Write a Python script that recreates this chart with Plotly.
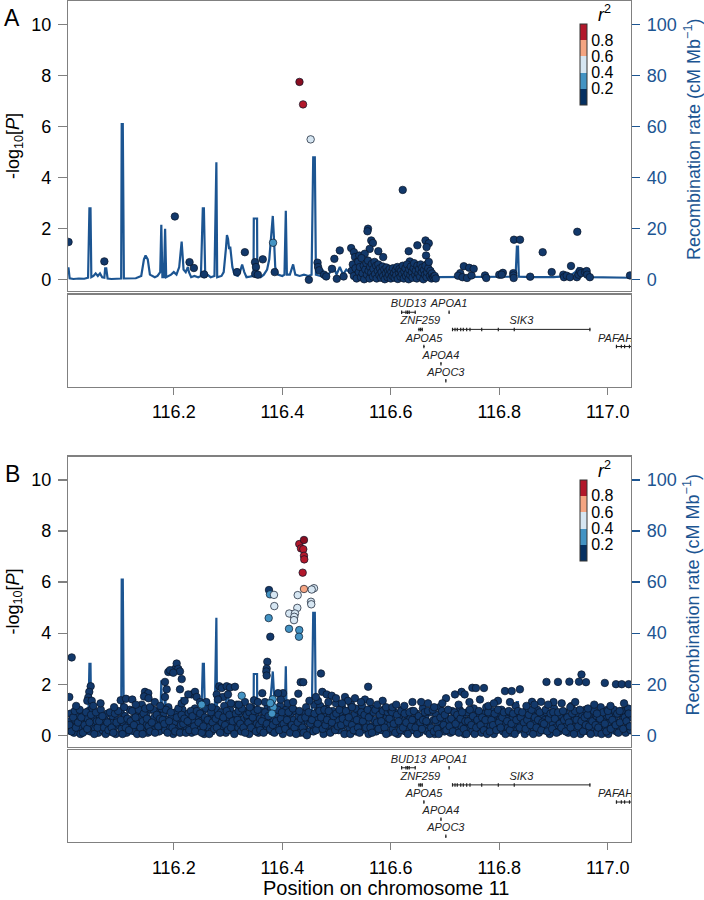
import plotly.graph_objects as go

# ---------------- data ----------------
# Recombination rate (cM/Mb) along chr11 (Mb)
recomb_pos = [116.005, 116.006, 116.008, 116.015, 116.025, 116.035, 116.042, 116.0445, 116.0465, 116.048,
              116.052, 116.056, 116.060, 116.064, 116.068, 116.072, 116.0735, 116.0755, 116.078, 116.085,
              116.095, 116.103, 116.104, 116.106, 116.108, 116.120, 116.130, 116.140, 116.145, 116.148,
              116.152, 116.156, 116.165, 116.170, 116.175, 116.177, 116.179, 116.182, 116.184, 116.186,
              116.195, 116.200, 116.205, 116.210, 116.2145, 116.218, 116.222, 116.226, 116.228, 116.232,
              116.238, 116.245, 116.250, 116.2535, 116.2555, 116.258, 116.262, 116.268, 116.275, 116.2785,
              116.280, 116.288, 116.292, 116.296, 116.298, 116.300, 116.302, 116.304, 116.306, 116.308,
              116.312, 116.318, 116.322, 116.326, 116.330, 116.334, 116.340, 116.347, 116.3475, 116.3535,
              116.354, 116.360, 116.366, 116.372, 116.376, 116.379, 116.3825, 116.3845, 116.387, 116.392,
              116.400, 116.404, 116.4065, 116.4085, 116.414, 116.420, 116.424, 116.432, 116.440, 116.448,
              116.454, 116.457, 116.460, 116.462, 116.470, 116.474, 116.478, 116.485, 116.495, 116.500,
              116.506, 116.512, 116.518, 116.524, 116.530, 116.536, 116.545, 116.560, 116.580, 116.600,
              116.620, 116.640, 116.660, 116.680, 116.700, 116.720, 116.750, 116.780, 116.800, 116.830,
              116.8325, 116.8345, 116.836, 116.860, 116.900, 116.930, 116.940, 116.945, 116.950, 116.956,
              116.965, 117.000, 117.043]
recomb_rate = [4.5, 4.5, 0.6, 0.3, 0.5, 0.4, 0.8, 28, 28, 1.0,
               1.5, 2.5, 1.5, 2.5, 1.0, 0.8, 4.5, 4.5, 0.5, 0.3,
               0.4, 0.5, 61, 61, 0.5, 0.4, 0.6, 1.5, 8, 9.5,
               8, 2, 1.0, 1.5, 3, 21.5, 1.0, 1.0, 20, 1.0,
               2, 3, 2, 5, 15, 4, 3, 5, 3, 1,
               1.5, 1, 1.5, 28, 28, 1, 2, 1, 1.5, 46,
               1, 1.5, 3, 12, 17.5, 16, 12, 13, 9, 5,
               2, 1.5, 3, 6, 3, 1, 1.2, 1.5, 24, 24,
               1.5, 1, 2, 4, 8, 17, 25, 17, 5, 2,
               1.5, 2, 27, 2, 2, 6, 2, 1.5, 2, 1.5,
               2, 48, 48, 2, 1.5, 4, 1.5, 2, 5, 2,
               5, 2, 4, 3, 5, 2, 1, 1, 1.2, 1,
               0.8, 1, 1.2, 1, 1, 1, 1, 1, 1, 1.2,
               13, 13, 1.2, 1, 1, 1.5, 3, 4.5, 3, 2,
               1, 0.8, 0.8]

# Panel A association results: [position Mb, -log10 P]
a_navy = [[116.006, 1.48], [116.072, 0.72], [116.202, 2.48], [116.229, 0.69], [116.237, 0.46], [116.256, 0.21],
          [116.3165, 0.3], [116.331, 1.08], [116.3497, 0.69], [116.3515, 0.5], [116.350, 0.23], [116.355, 0.2],
          [116.364, 0.8], [116.386, 0.3], [116.449, 0.0], [116.465, 0.67], [116.466, 0.5], [116.468, 0.37],
          [116.477, 0.2], [116.481, 0.13], [116.496, 0.82], [116.4916, 0.43], [116.5005, 0.04], [116.506, 1.15],
          [116.513, 0.13], [116.527, 1.24],
          [116.558, 2.0], [116.557, 1.9], [116.564, 1.54], [116.567, 1.44], [116.561, 1.21], [116.577, 1.12],
          [116.586, 0.89], [116.532, 1.08], [116.534, 0.89], [116.538, 0.7], [116.542, 0.95], [116.552, 1.02],
          [116.622, 3.52], [116.633, 1.12], [116.649, 1.35], [116.664, 1.54], [116.670, 1.43], [116.666, 1.28],
          [116.665, 0.95], [116.668, 0.63], [116.635, 0.72],
          [116.728, 0.26], [116.7239, 0.16], [116.7322, 0.1], [116.7346, 0.53], [116.7405, 0.07], [116.7445, 0.47],
          [116.7488, 0.17], [116.7528, 0.43], [116.7737, 0.17], [116.776, 0.07], [116.800, 0.2], [116.8066, 0.27],
          [116.8044, 0.2], [116.8258, 0.26], [116.826, 0.17], [116.8265, 0.07], [116.8271, 1.57], [116.8382, 1.57],
          [116.857, 0.12], [116.880, 1.08], [116.8966, 0.3], [116.918, 0.2], [116.9193, 0.1], [116.9243, 0.16],
          [116.9303, 0.1], [116.9322, 0.54], [116.9438, 1.88], [116.943, 0.1], [116.946, 0.2], [116.9488, 0.34],
          [116.951, 0.26], [116.958, 0.3], [116.961, 0.34], [116.962, 0.2], [116.967, 0.1], [117.041, 0.17]]
a_cluster = [[116.528, 0.35], [116.530, 0.6], [116.532, 0.15], [116.535, 0.45], [116.537, 0.05], [116.540, 0.7],
             [116.541, 0.3], [116.543, 0.5], [116.545, 0.1], [116.546, 0.85], [116.548, 0.25], [116.550, 0.55],
             [116.551, 0.02], [116.553, 0.4], [116.555, 0.65], [116.556, 0.2], [116.558, 0.75], [116.559, 0.35],
             [116.561, 0.05], [116.562, 0.5], [116.564, 0.28], [116.565, 0.62], [116.567, 0.12], [116.568, 0.42],
             [116.570, 0.7], [116.571, 0.22], [116.573, 0.55], [116.574, 0.05], [116.576, 0.35], [116.577, 0.6],
             [116.579, 0.18], [116.580, 0.45], [116.582, 0.08], [116.583, 0.3], [116.585, 0.52], [116.586, 0.15],
             [116.588, 0.4], [116.589, 0.02], [116.591, 0.25], [116.592, 0.48], [116.594, 0.1], [116.595, 0.35],
             [116.597, 0.2], [116.598, 0.42], [116.600, 0.05], [116.601, 0.3], [116.603, 0.15], [116.604, 0.45],
             [116.606, 0.25], [116.607, 0.08], [116.609, 0.38], [116.610, 0.18], [116.612, 0.5], [116.613, 0.03],
             [116.615, 0.28], [116.616, 0.42], [116.618, 0.12], [116.619, 0.35], [116.621, 0.22], [116.622, 0.55],
             [116.624, 0.05], [116.625, 0.32], [116.627, 0.45], [116.628, 0.15], [116.630, 0.6], [116.631, 0.25],
             [116.633, 0.02], [116.634, 0.4], [116.636, 0.18], [116.637, 0.52], [116.639, 0.3], [116.640, 0.08],
             [116.642, 0.45], [116.643, 0.65], [116.645, 0.2], [116.646, 0.35], [116.648, 0.05], [116.649, 0.55],
             [116.651, 0.25], [116.652, 0.42], [116.654, 0.12], [116.655, 0.6], [116.657, 0.3], [116.658, 0.48],
             [116.660, 0.02], [116.661, 0.38], [116.663, 0.2], [116.664, 0.55], [116.666, 0.1], [116.667, 0.3],
             [116.669, 0.45], [116.670, 0.7], [116.672, 0.15], [116.673, 0.35], [116.675, 0.05], [116.676, 0.25],
             [116.678, 0.12], [116.679, 0.08], [116.681, 0.15], [116.683, 0.05]]
a_blue = [[116.383, 1.45]]
a_light = [[116.4523, 5.5]]
a_salmon = []
a_red = [[116.4383, 6.87]]
a_lead = [[116.4317, 7.75]]

# Panel B association results
b_band = [[116.006, 0.2], [116.008, 0.55], [116.010, 0.85], [116.013, 0.35], [116.016, 0.1], [116.018, 0.6],
          [116.022, 0.75], [116.025, 0.3], [116.028, 0.05], [116.031, 0.55], [116.034, 0.8], [116.037, 0.2], [116.039, 0.45],
          [116.041, 0.65], [116.043, 0.95], [116.046, 0.15], [116.049, 0.4], [116.052, 0.7], [116.055, 0.25], [116.058, 0.55], [116.050, 1.05],
          [116.061, 0.1], [116.063, 0.8], [116.066, 0.45], [116.069, 0.2], [116.072, 0.65], [116.075, 0.35], [116.078, 0.85],
          [116.081, 0.15], [116.084, 0.55], [116.087, 0.75], [116.090, 0.3], [116.093, 0.05], [116.096, 0.6], [116.099, 0.4],
          [116.101, 0.9], [116.104, 0.25], [116.107, 0.5], [116.110, 0.75], [116.113, 0.1], [116.116, 0.4], [116.119, 1.0],
          [116.122, 0.3], [116.125, 0.65], [116.128, 0.15], [116.131, 0.85], [116.134, 0.45], [116.137, 0.2], [116.139, 0.7],
          [116.141, 1.2], [116.143, 0.55], [116.146, 0.3], [116.149, 0.8], [116.152, 0.1], [116.155, 0.6], [116.158, 1.0], [116.150, 0.4],
          [116.161, 0.25], [116.164, 0.7], [116.167, 0.45], [116.170, 0.9], [116.173, 0.15], [116.176, 0.55], [116.179, 0.35],
          [116.181, 0.8], [116.184, 0.2], [116.187, 0.6], [116.190, 1.1], [116.193, 0.35], [116.196, 0.75], [116.199, 0.05],
          [116.201, 0.5], [116.204, 0.9], [116.207, 0.25], [116.210, 0.65], [116.213, 0.4], [116.216, 1.0], [116.219, 0.15],
          [116.221, 0.7], [116.224, 0.3], [116.227, 0.85], [116.230, 0.5], [116.233, 0.1], [116.236, 0.6], [116.239, 1.05],
          [116.241, 0.35], [116.244, 0.75], [116.247, 0.2], [116.250, 0.55], [116.253, 0.9], [116.256, 0.05], [116.259, 0.45],
          [116.261, 1.1], [116.264, 0.3], [116.267, 0.65], [116.270, 0.15], [116.273, 0.8], [116.276, 0.45], [116.279, 1.0],
          [116.281, 0.25], [116.284, 0.6], [116.287, 0.9], [116.290, 0.35], [116.293, 1.15], [116.296, 0.1], [116.299, 0.7],
          [116.301, 0.45], [116.304, 1.0], [116.307, 0.2], [116.310, 0.75], [116.313, 0.5], [116.316, 1.2], [116.319, 0.3],
          [116.321, 0.85], [116.324, 0.15], [116.327, 0.6], [116.330, 0.95], [116.333, 0.4], [116.336, 0.7], [116.339, 0.05],
          [116.341, 0.55], [116.344, 1.05], [116.347, 0.25], [116.350, 0.8], [116.353, 0.45], [116.356, 0.1], [116.359, 0.65],
          [116.361, 0.95], [116.364, 0.35], [116.367, 0.7], [116.370, 0.2], [116.373, 1.1], [116.376, 0.5], [116.379, 0.8],
          [116.381, 0.15], [116.384, 0.6], [116.387, 0.9], [116.390, 0.3], [116.393, 0.75], [116.396, 1.15], [116.399, 0.45],
          [116.401, 0.05], [116.404, 0.7], [116.407, 1.0], [116.410, 0.35], [116.413, 0.55], [116.416, 0.85], [116.419, 0.2],
          [116.421, 0.6], [116.424, 0.95], [116.427, 0.3], [116.430, 0.75], [116.433, 0.1], [116.436, 0.5], [116.439, 0.85],
          [116.441, 0.25], [116.444, 1.1], [116.447, 0.55], [116.450, 0.15], [116.453, 0.8], [116.456, 0.4], [116.459, 1.2],
          [116.461, 0.65], [116.464, 0.9], [116.467, 0.3], [116.470, 1.15], [116.473, 0.5], [116.476, 0.05], [116.479, 0.75],
          [116.481, 1.05], [116.484, 0.35], [116.487, 0.7], [116.490, 0.15], [116.493, 0.95], [116.496, 0.45], [116.499, 1.25],
          [116.501, 0.6], [116.504, 0.2], [116.507, 0.85], [116.510, 1.1], [116.513, 0.4], [116.516, 0.7], [116.519, 0.1],
          [116.521, 0.95], [116.524, 0.3], [116.527, 1.2], [116.530, 0.55], [116.533, 0.8], [116.536, 0.15], [116.539, 1.0],
          [116.541, 0.45], [116.544, 0.7], [116.547, 1.15], [116.550, 0.25], [116.553, 0.9], [116.556, 0.55], [116.559, 0.05],
          [116.561, 0.75], [116.564, 1.05], [116.567, 0.35], [116.570, 0.6], [116.573, 0.15], [116.576, 0.95], [116.579, 0.45],
          [116.581, 0.8], [116.584, 0.2], [116.587, 1.0], [116.590, 0.5], [116.593, 0.7], [116.596, 0.1], [116.599, 0.4],
          [116.601, 0.65], [116.604, 0.25], [116.607, 0.9], [116.610, 0.45], [116.613, 0.05], [116.616, 0.75], [116.619, 0.35],
          [116.621, 1.0], [116.624, 0.55], [116.627, 0.15], [116.630, 0.8], [116.633, 0.3], [116.636, 0.65], [116.639, 0.95],
          [116.641, 0.2], [116.644, 0.6], [116.647, 0.85], [116.650, 0.4], [116.653, 0.1], [116.656, 0.7], [116.659, 1.05],
          [116.661, 0.35], [116.664, 0.75], [116.667, 0.15], [116.670, 0.5], [116.673, 0.9], [116.676, 0.25], [116.679, 0.6],
          [116.681, 0.05], [116.684, 0.8], [116.687, 0.45], [116.690, 1.1], [116.693, 0.3], [116.696, 0.65], [116.699, 0.15],
          [116.701, 0.85], [116.704, 0.4], [116.707, 0.6], [116.710, 0.1], [116.713, 0.95], [116.716, 0.3], [116.719, 0.7],
          [116.721, 0.2], [116.724, 0.55], [116.727, 1.0], [116.730, 0.35], [116.733, 0.75], [116.736, 0.05], [116.739, 0.5],
          [116.741, 0.9], [116.744, 0.25], [116.747, 0.65], [116.750, 0.15], [116.753, 1.05], [116.756, 0.45], [116.759, 0.8],
          [116.761, 0.3], [116.764, 0.6], [116.767, 0.1], [116.770, 0.85], [116.773, 0.4], [116.776, 1.1], [116.779, 0.2],
          [116.781, 0.7], [116.784, 0.35], [116.787, 0.95], [116.790, 0.05], [116.793, 0.55], [116.796, 0.8], [116.799, 0.25],
          [116.801, 0.6], [116.804, 1.0], [116.807, 0.15], [116.810, 0.45], [116.813, 0.75], [116.816, 0.3], [116.819, 0.9],
          [116.821, 0.1], [116.824, 0.65], [116.827, 0.4], [116.830, 1.15], [116.833, 0.2], [116.836, 0.85], [116.839, 0.5],
          [116.841, 0.3], [116.844, 0.7], [116.847, 0.05], [116.850, 0.95], [116.853, 0.45], [116.856, 0.15], [116.859, 0.6],
          [116.861, 0.85], [116.864, 0.25], [116.867, 0.55], [116.870, 1.0], [116.873, 0.1], [116.876, 0.4], [116.879, 0.75],
          [116.881, 0.2], [116.884, 0.6], [116.887, 0.9], [116.890, 0.35], [116.893, 0.05], [116.896, 0.7], [116.899, 0.45],
          [116.901, 1.05], [116.904, 0.3], [116.907, 0.65], [116.910, 0.15], [116.913, 0.8], [116.916, 0.5], [116.919, 0.25],
          [116.921, 0.9], [116.924, 0.4], [116.927, 0.1], [116.930, 0.7], [116.933, 1.15], [116.936, 0.35], [116.939, 0.6],
          [116.941, 0.2], [116.944, 0.85], [116.947, 0.5], [116.950, 0.05], [116.953, 0.75], [116.956, 0.3], [116.959, 1.0],
          [116.961, 0.45], [116.964, 0.15], [116.967, 0.65], [116.970, 0.9], [116.973, 0.25], [116.976, 0.55], [116.979, 0.1],
          [116.981, 0.8], [116.984, 0.4], [116.987, 1.1], [116.990, 0.2], [116.993, 0.6], [116.996, 0.35], [116.999, 0.75],
          [117.001, 0.05], [117.004, 0.5], [117.007, 0.9], [117.010, 0.3], [117.013, 0.7], [117.016, 0.15], [117.019, 0.45],
          [117.021, 0.85], [117.024, 0.25], [117.027, 0.6], [117.030, 0.95], [117.033, 0.1], [117.036, 0.4], [117.039, 0.7], [117.042, 0.2]]
b_band2 = [[116.0075, 0.4], [116.0115, 0.15], [116.0145, 0.7], [116.0175, 0.95], [116.0195, 0.3],
           [116.0235, 0.5], [116.0265, 1.0], [116.0295, 0.7], [116.0325, 0.1], [116.0355, 0.4], [116.0385, 0.9],
           [116.0405, 0.25], [116.0445, 0.5], [116.0475, 0.8], [116.0535, 0.05], [116.0565, 0.9], [116.0595, 0.3],
           [116.0625, 0.55], [116.0655, 1.0], [116.0685, 0.75], [116.0715, 0.3], [116.0745, 0.05], [116.0775, 0.5], [116.0795, 0.2],
           [116.0825, 0.9], [116.0855, 0.3], [116.0885, 0.1], [116.0915, 0.85], [116.0945, 0.5], [116.0975, 0.95],
           [116.1025, 0.6], [116.1055, 0.05], [116.1085, 1.1], [116.1115, 0.3], [116.1145, 0.65], [116.1175, 0.2],
           [116.1205, 0.55], [116.1235, 0.95], [116.1265, 0.4], [116.1295, 0.7], [116.1325, 0.05], [116.1355, 1.0], [116.1385, 0.3],
           [116.1425, 0.05], [116.1445, 0.85], [116.1475, 1.05], [116.1505, 0.65], [116.1535, 0.35], [116.1565, 0.15], [116.1595, 0.5],
           [116.1625, 1.0], [116.1655, 0.1], [116.1685, 0.8], [116.1715, 0.35], [116.1745, 0.65], [116.1775, 1.05], [116.1795, 0.6],
           [116.1825, 0.45], [116.1855, 1.0], [116.1885, 0.1], [116.1915, 0.55], [116.1945, 0.9], [116.1975, 0.3],
           [116.2025, 0.15], [116.2055, 0.7], [116.2085, 1.05], [116.2115, 0.1], [116.2145, 0.8], [116.2175, 0.45], [116.2195, 0.65],
           [116.2225, 0.1], [116.2255, 0.55], [116.2285, 0.2], [116.2315, 0.95], [116.2345, 0.75], [116.2375, 0.35], [116.2395, 0.15],
           [116.2425, 0.95], [116.2455, 0.5], [116.2485, 0.85], [116.2515, 0.1], [116.2545, 0.35], [116.2575, 0.7], [116.2595, 1.05],
           [116.2625, 0.6], [116.2655, 0.05], [116.2685, 0.9], [116.2715, 0.5], [116.2745, 0.25], [116.2775, 0.65], [116.2795, 0.3],
           [116.2825, 0.8], [116.2855, 0.1], [116.2885, 0.5], [116.2915, 0.7], [116.2945, 0.4], [116.2975, 0.95], [116.2995, 0.2],
           [116.3025, 0.8], [116.3055, 0.3], [116.3085, 0.55], [116.3115, 0.05], [116.3145, 0.85], [116.3175, 0.6], [116.3195, 0.95],
           [116.3225, 0.45], [116.3255, 1.05], [116.3285, 0.3], [116.3315, 0.1], [116.3345, 0.8], [116.3375, 0.5], [116.3395, 0.9],
           [116.3425, 0.3], [116.3455, 0.7], [116.3485, 0.95], [116.3515, 0.15], [116.3545, 1.0], [116.3575, 0.4], [116.3595, 0.2],
           [116.3625, 0.55], [116.3655, 0.1], [116.3685, 0.9], [116.3715, 0.45], [116.3745, 0.75], [116.3775, 0.25], [116.3795, 1.05],
           [116.3825, 0.4], [116.3855, 0.1], [116.3885, 0.55], [116.3915, 1.0], [116.3945, 0.2], [116.3975, 0.65], [116.3995, 0.9],
           [116.4025, 0.45], [116.4055, 0.25], [116.4085, 0.6], [116.4115, 0.9], [116.4145, 0.1], [116.4175, 0.4], [116.4195, 1.05],
           [116.4225, 0.3], [116.4255, 0.05], [116.4285, 0.5], [116.4315, 0.95], [116.4345, 0.65], [116.4375, 0.3], [116.4395, 0.1],
           [116.4425, 0.7], [116.4455, 0.0], [116.4485, 0.9], [116.4515, 0.45], [116.4545, 0.6], [116.4575, 0.15], [116.4595, 0.85],
           [116.4625, 0.2], [116.4655, 0.45], [116.4685, 0.95], [116.4715, 0.7], [116.4745, 0.25], [116.4775, 1.0], [116.4795, 0.4],
           [116.4825, 0.6], [116.4855, 0.95], [116.4885, 0.1], [116.4915, 0.5], [116.4945, 0.75], [116.4975, 0.2], [116.4995, 0.85],
           [116.5025, 0.35], [116.5055, 1.0], [116.5085, 0.4], [116.5115, 0.65], [116.5145, 0.05], [116.5175, 0.95], [116.5195, 0.5],
           [116.5225, 0.7], [116.5255, 0.05], [116.5285, 0.4], [116.5315, 0.2], [116.5345, 1.05], [116.5375, 0.6], [116.5395, 0.3],
           [116.5425, 0.1], [116.5455, 0.9], [116.5485, 0.55], [116.5515, 0.8], [116.5545, 0.3], [116.5575, 1.0], [116.5595, 0.7],
           [116.5625, 0.3], [116.5655, 0.1], [116.5685, 0.9], [116.5715, 1.0], [116.5745, 0.5], [116.5775, 0.25], [116.5795, 0.8],
           [116.5825, 0.55], [116.5855, 0.95], [116.5885, 0.3], [116.5915, 0.05], [116.5945, 0.9], [116.5975, 0.65], [116.5995, 1.0],
           [116.6025, 0.9], [116.6055, 0.45], [116.6085, 0.1], [116.6115, 0.8], [116.6145, 0.55], [116.6175, 0.2], [116.6195, 0.95],
           [116.6225, 0.3], [116.6255, 0.85], [116.6285, 0.5], [116.6315, 0.05], [116.6345, 0.9], [116.6375, 0.35], [116.6395, 0.6],
           [116.6425, 0.95], [116.6455, 0.3], [116.6485, 0.05], [116.6515, 0.75], [116.6545, 0.5], [116.6575, 0.25], [116.6595, 0.6],
           [116.6625, 0.9], [116.6655, 0.55], [116.6685, 0.95], [116.6715, 0.05], [116.6745, 0.3], [116.6775, 1.0], [116.6795, 0.15],
           [116.6825, 0.6], [116.6855, 0.25], [116.6885, 0.05], [116.6915, 0.7], [116.6945, 0.95], [116.6975, 0.4], [116.6995, 0.8],
           [116.7025, 0.2], [116.7055, 1.0], [116.7085, 0.35], [116.7115, 0.65], [116.7145, 0.15], [116.7175, 0.9], [116.7195, 0.45],
           [116.7225, 0.8], [116.7255, 0.1], [116.7285, 0.65], [116.7315, 0.9], [116.7345, 0.25], [116.7375, 0.55], [116.7395, 0.05],
           [116.7425, 0.55], [116.7455, 1.0], [116.7485, 0.4], [116.7515, 0.75], [116.7545, 0.05], [116.7575, 0.3], [116.7595, 0.6],
           [116.7625, 0.95], [116.7655, 0.4], [116.7685, 0.7], [116.7715, 0.2], [116.7745, 0.6], [116.7775, 0.05], [116.7795, 0.9],
           [116.7825, 0.15], [116.7855, 0.6], [116.7885, 0.4], [116.7915, 0.85], [116.7945, 0.2], [116.7975, 1.0], [116.7995, 0.5],
           [116.8025, 0.3], [116.8055, 0.7], [116.8085, 0.9], [116.8115, 0.05], [116.8145, 0.55], [116.8175, 0.95], [116.8195, 0.2],
           [116.8225, 0.45], [116.8255, 0.85], [116.8285, 0.05], [116.8315, 0.6], [116.8345, 0.95], [116.8375, 0.3], [116.8395, 0.7],
           [116.8425, 0.9], [116.8455, 0.5], [116.8485, 0.25], [116.8515, 0.6], [116.8545, 0.8], [116.8575, 0.4], [116.8595, 1.0],
           [116.8625, 0.05], [116.8655, 0.7], [116.8685, 0.3], [116.8715, 0.6], [116.8745, 0.9], [116.8775, 0.2], [116.8795, 0.5],
           [116.8825, 0.45], [116.8855, 1.0], [116.8885, 0.15], [116.8915, 0.65], [116.8945, 0.85], [116.8975, 0.25], [116.8995, 0.9],
           [116.9025, 0.65], [116.9055, 0.1], [116.9085, 0.9], [116.9115, 0.45], [116.9145, 0.3], [116.9175, 0.95], [116.9195, 0.6],
           [116.9225, 0.15], [116.9255, 0.7], [116.9285, 0.5], [116.9315, 0.3], [116.9345, 0.85], [116.9375, 0.05], [116.9395, 0.95],
           [116.9425, 0.6], [116.9455, 0.35], [116.9485, 1.0], [116.9515, 0.55], [116.9545, 0.15], [116.9575, 0.7], [116.9595, 0.4],
           [116.9625, 0.8], [116.9655, 0.35], [116.9685, 0.05], [116.9715, 0.55], [116.9745, 0.95], [116.9775, 0.4], [116.9795, 0.75],
           [116.9825, 0.3], [116.9855, 0.65], [116.9885, 0.05], [116.9915, 0.9], [116.9945, 0.45], [116.9975, 0.15], [116.9995, 1.0],
           [117.0025, 0.75], [117.0055, 0.25], [117.0085, 0.6], [117.0115, 1.0], [117.0145, 0.4], [117.0175, 0.85], [117.0195, 0.1],
           [117.0225, 0.5], [117.0255, 0.95], [117.0285, 0.25], [117.0315, 0.7], [117.0345, 0.55], [117.0375, 1.05], [117.0405, 0.35]]
b_navy_hi = [[116.0118, 3.05], [116.0074, 1.5], [116.0468, 1.92], [116.0442, 1.7], [116.0424, 1.48], [116.0406, 1.35],
             [116.0487, 1.35], [116.0516, 1.15], [116.1021, 1.37], [116.1119, 1.43], [116.1235, 1.4],
             [116.1469, 1.7], [116.153, 1.65], [116.1451, 1.52], [116.1535, 1.45], [116.1561, 1.1],
             [116.1838, 2.09], [116.1869, 1.8], [116.1838, 1.5], [116.1899, 2.48], [116.1961, 2.5], [116.2022, 2.6],
             [116.2053, 2.81], [116.2083, 2.6], [116.2114, 2.5], [116.193, 2.55], [116.1991, 2.45],
             [116.2146, 2.2], [116.2114, 1.8], [116.2146, 1.25], [116.233, 1.6], [116.2391, 1.7], [116.2422, 1.5],
             [116.2267, 1.6], [116.2483, 1.3], [116.2839, 1.92], [116.2883, 1.85], [116.2975, 1.92], [116.3036, 1.87],
             [116.3128, 1.9], [116.2791, 1.6], [116.2907, 1.5], [116.2999, 1.6], [116.2815, 1.4], [116.3054, 1.25],
             [116.3312, 1.3], [116.3478, 1.37], [116.3631, 1.65], [116.3681, 1.3], [116.4013, 1.65], [116.3971, 1.4],
             [116.3921, 1.65], [116.4737, 1.7], [116.4818, 1.6], [116.4911, 1.55], [116.4658, 1.35], [116.499, 1.45],
             [116.5156, 1.5], [116.5211, 1.35], [116.534, 1.45], [116.5285, 1.1], [116.5583, 1.9], [116.5524, 1.4],
             [116.5617, 1.3], [116.5912, 1.1], [116.603, 1.1], [116.656, 1.3], [116.6686, 1.25],
             [116.7018, 1.45], [116.7183, 1.6], [116.7305, 1.7], [116.7504, 1.86], [116.757, 1.85], [116.7718, 1.85],
             [116.7362, 1.6], [116.7644, 1.4], [116.8105, 1.73], [116.8229, 1.73], [116.838, 1.8], [116.8197, 1.3],
             [116.7976, 1.35], [116.8603, 1.31], [116.877, 1.31], [116.887, 2.09], [116.9082, 2.09], [116.9292, 2.1],
             [116.9515, 2.38], [116.9469, 2.1], [116.9598, 2.08], [116.9945, 2.05], [117.0151, 2.0], [117.0258, 2.0],
             [117.0385, 2.0], [116.900, 1.3], [116.9309, 1.1], [116.9635, 1.05], [116.980, 0.85], [117.0003, 0.95],
             [117.0219, 0.95], [117.0385, 0.85],
             [116.020, 1.15], [116.065, 1.25], [116.090, 1.1], [116.130, 1.2], [116.165, 1.3], [116.175, 1.15],
             [116.220, 1.35], [116.260, 1.3], [116.270, 1.1], [116.320, 1.2], [116.340, 1.1], [116.355, 1.3],
             [116.410, 1.25], [116.420, 1.3], [116.450, 1.35], [116.462, 1.5], [116.485, 1.3], [116.510, 1.25],
             [116.545, 1.3], [116.575, 1.2], [116.585, 1.35], [116.610, 1.2], [116.625, 1.15], [116.640, 1.3],
             [116.680, 1.1], [116.695, 1.25], [116.725, 1.2], [116.745, 1.3], [116.780, 1.15], [116.790, 1.25],
             [116.850, 1.15], [116.865, 1.2], [116.890, 1.2], [116.915, 1.25], [116.940, 1.3], [116.975, 1.2],
             [117.005, 1.15], [117.030, 1.25],
             [116.3755, 5.69], [116.3779, 3.86], [116.3724, 2.88], [116.3712, 2.61], [116.3705, 2.5], [116.3712, 2.34],
             [116.4339, 2.08], [116.4387, 2.08], [116.4713, 2.42], [116.4295, 1.63]]
b_blue = [[116.4124, 4.17], [116.4313, 4.12], [116.4308, 3.86], [116.3773, 5.52], [116.3749, 4.59], [116.3252, 1.55],
          [116.2514, 1.2], [116.3823, 1.41], [116.3835, 1.1], [116.381, 0.85], [116.378, 1.26]]
b_light = [[116.4584, 5.76], [116.4542, 5.71], [116.4529, 5.23], [116.4534, 5.13], [116.4284, 5.49], [116.4277, 4.99],
           [116.4129, 4.77], [116.4234, 4.77], [116.4221, 4.64], [116.4216, 4.51], [116.3847, 5.5], [116.3853, 5.06]]
b_salmon = [[116.440, 5.73]]
b_red = [[116.4313, 7.49], [116.4345, 7.32], [116.4387, 7.29], [116.440, 7.03], [116.4405, 6.89], [116.4376, 6.37]]
b_lead = [[116.440, 7.65]]

# Genes
gene_names = ["BUD13", "APOA1", "ZNF259", "SIK3", "APOA5", "PAFAH1B2", "APOA4", "APOC3"]
gene_start = [116.619, 116.7065, 116.650, 116.7134, 116.660, 117.015, 116.6915, 116.7005]
gene_end = [116.646, 116.7085, 116.659, 116.968, 116.6625, 117.050, 116.6935, 116.7025]
gene_row = [1, 1, 2, 2, 3, 3, 4, 5]
gene_exons = [[116.620, 116.628, 116.631, 116.634, 116.645],
              [116.7075],
              [116.652, 116.655, 116.658],
              [116.7138, 116.7184, 116.7226, 116.7289, 116.7337, 116.7399, 116.746, 116.7676, 116.7982, 116.8276, 116.967],
              [116.661],
              [117.016, 117.025, 117.031, 117.040],
              [116.6925],
              [116.7015]]

x_ticks = [116.2, 116.4, 116.6, 116.8, 117.0]
logp_ticks = [0, 2, 4, 6, 8, 10]
recomb_ticks = [0, 20, 40, 60, 80, 100]
r2_ticks = [0.2, 0.4, 0.6, 0.8]

# ---------------- style ----------------
W, H = 704, 900
ML, MR = 68, 73
X_RANGE = [116.005, 117.0428]
LOGP_RANGE = [-0.44, 10.92]
REC_RANGE = [-4.4, 109.2]
GENE_RANGE = [5.333, -0.036]
NAVY, BLUE, LIGHT, SALMON, RED, LEAD = "#12386a", "#4393c3", "#d6e6f2", "#f4a582", "#b2182b", "#8a0d20"
REC_COLOR = "#1c5592"
AX_COLOR = "#808080"
FONT = "Liberation Sans, Arial, sans-serif"

def dom(top, bottom):
    return [1 - bottom / H, 1 - top / H]

def px_x(px):
    return (px - ML) / (W - ML - MR)

def px_y(py):
    return 1 - py / H

fig = go.Figure()

def pts(pairs, color, xa, ya, size=7.5):
    fig.add_trace(go.Scatter(
        x=[p[0] for p in pairs], y=[p[1] for p in pairs], mode="markers",
        marker=dict(size=size, color=color, line=dict(width=0.7, color="#0a1628")),
        xaxis=xa, yaxis=ya, showlegend=False, hoverinfo="skip"))

colorscale = [[0, "#053061"], [0.2, "#053061"], [0.2, BLUE], [0.4, BLUE], [0.4, LIGHT], [0.6, LIGHT],
              [0.6, SALMON], [0.8, SALMON], [0.8, RED], [1.0, RED]]

panels = [
    dict(xa="x", rec="y", lp="y2", gx="x2", gy="y3", top=1, gtop=294.5,
         groups=[(a_navy + a_cluster, NAVY), (a_blue, BLUE), (a_light, LIGHT), (a_salmon, SALMON), (a_red, RED), (a_lead, LEAD)]),
    dict(xa="x3", rec="y4", lp="y5", gx="x4", gy="y6", top=456.5, gtop=750,
         groups=[(b_band + b_band2 + b_navy_hi, NAVY), (b_blue, BLUE), (b_light, LIGHT), (b_salmon, SALMON), (b_red, RED), (b_lead, LEAD)]),
]

for p in panels:
    # recombination line (primary axis, drawn beneath)
    fig.add_trace(go.Scatter(x=recomb_pos, y=recomb_rate, mode="lines",
                             line=dict(color=REC_COLOR, width=2.2), xaxis=p["xa"], yaxis=p["rec"],
                             showlegend=False, hoverinfo="skip"))
    for pairs, col in p["groups"]:
        if pairs:
            pts(pairs, col, p["xa"], p["lp"])
    # colorbar legend
    fig.add_trace(go.Scatter(
        x=[None], y=[None], mode="markers", xaxis=p["xa"], yaxis=p["lp"], showlegend=False, hoverinfo="skip",
        marker=dict(size=1, color=[0.5], cmin=0, cmax=1, colorscale=colorscale, showscale=True,
                    colorbar=dict(xref="container", yref="container", x=580 / W, xanchor="left",
                                  y=1 - (p["top"] + 23) / H, yanchor="top", lenmode="pixels", len=81,
                                  thickness=7, xpad=0, ypad=0, outlinewidth=1, outlinecolor="#333333",
                                  tickvals=r2_ticks, ticktext=[f"{t:.1f}" for t in r2_ticks], ticks="",
                                  tickfont=dict(size=16, color="black", family=FONT)))))
    # genes
    gx, gy = [], []
    ex, ey = [], []
    for s, e, r, exs in zip(gene_start, gene_end, gene_row, gene_exons):
        gx += [s, e, None]
        gy += [r, r, None]
        for q in exs:
            ex += [q - 0.0011, q + 0.0011, None]
            ey += [r, r, None]
    fig.add_trace(go.Scatter(x=gx, y=gy, mode="lines", line=dict(color="#222222", width=1),
                             xaxis=p["gx"], yaxis=p["gy"], showlegend=False, hoverinfo="skip"))
    fig.add_trace(go.Scatter(x=ex, y=ey, mode="lines", line=dict(color="#222222", width=3.5),
                             xaxis=p["gx"], yaxis=p["gy"], showlegend=False, hoverinfo="skip"))
    fig.add_trace(go.Scatter(
        x=[(s + e) / 2 for s, e in zip(gene_start, gene_end)], y=[r - 0.45 for r in gene_row],
        mode="text", text=[f"<i>{n}</i>" for n in gene_names], textposition="middle center",
        textfont=dict(size=11, color="#222222", family=FONT), cliponaxis=True,
        xaxis=p["gx"], yaxis=p["gy"], showlegend=False, hoverinfo="skip"))

layout = dict(width=W, height=H, margin=dict(l=ML, r=MR, t=0, b=0, autoexpand=False), plot_bgcolor="white",
              paper_bgcolor="white", font=dict(family=FONT, color="black"))

line_style = dict(showline=True, linecolor=AX_COLOR, linewidth=1.2, showgrid=False, zeroline=False)
for i, p in enumerate(panels):
    main_dom = dom(p["top"], p["top"] + 290)
    gene_dom = dom(p["gtop"], p["gtop"] + 92)
    xk = "xaxis" if i == 0 else "xaxis3"
    gxk = "xaxis2" if i == 0 else "xaxis4"
    reck = "yaxis" if i == 0 else "yaxis4"
    lpk = "yaxis2" if i == 0 else "yaxis5"
    gyk = "yaxis3" if i == 0 else "yaxis6"
    layout[xk] = dict(domain=[0, 1], range=X_RANGE, anchor=p["rec"], showticklabels=False, ticks="",
                      mirror=True, **line_style)
    layout[reck] = dict(domain=main_dom, range=REC_RANGE, anchor=p["xa"], side="right",
                        tickvals=recomb_ticks, ticks="outside", ticklen=8, tickcolor=REC_COLOR, tickwidth=1.2,
                        tickfont=dict(size=18, color=REC_COLOR, family=FONT), ticklabelstandoff=3, **line_style)
    layout[lpk] = dict(range=LOGP_RANGE, overlaying=p["rec"], anchor=p["xa"], side="left",
                       tickvals=logp_ticks, ticks="outside", ticklen=9, tickcolor=AX_COLOR, tickwidth=1.2,
                       tickfont=dict(size=18, color="black", family=FONT), ticklabelstandoff=3, **line_style)
    layout[gxk] = dict(domain=[0, 1], range=X_RANGE, anchor=p["gy"], tickvals=x_ticks, tickformat=".1f",
                       ticks="outside", ticklen=7, tickcolor=AX_COLOR, tickwidth=1.2, mirror=True,
                       tickfont=dict(size=18, color="black", family=FONT), ticklabelstandoff=2, **line_style)
    layout[gyk] = dict(domain=gene_dom, range=GENE_RANGE, anchor=p["gx"], showticklabels=False, ticks="",
                       mirror=True, **line_style)

fig.update_layout(**layout)

ann = []
for label, top in (("A", 1), ("B", 456.5)):
    ann.append(dict(text=label, x=px_x(12), y=px_y(top + 17), xref="paper", yref="paper",
                    xanchor="center", yanchor="middle",
                    showarrow=False, font=dict(size=23, color="black", family=FONT)))
    ann.append(dict(text="-log<sub>10</sub>[<i>P</i>]", x=px_x(14), y=px_y(top + 145), xref="paper", yref="paper",
                    xanchor="center", yanchor="middle",
                    textangle=-90, showarrow=False, font=dict(size=18, color="black", family=FONT)))
    ann.append(dict(text="Recombination rate (cM Mb<sup>−1</sup>)", x=px_x(692), y=px_y(top + 139),
                    xref="paper", yref="paper", textangle=-90, showarrow=False,
                    xanchor="center", yanchor="middle",
                    font=dict(size=18, color=REC_COLOR, family=FONT)))
    ann.append(dict(text="<i>r</i><sup>2</sup>", x=px_x(604), y=px_y(top + 13), xref="paper", yref="paper",
                    xanchor="center", yanchor="middle",
                    showarrow=False, font=dict(size=18, color="black", family=FONT)))
ann.append(dict(text="Position on chromosome 11", x=px_x(386), y=px_y(888), xref="paper", yref="paper",
                xanchor="center", yanchor="middle",
                showarrow=False, font=dict(size=20, color="black", family=FONT)))
fig.update_layout(annotations=ann)

fig.write_html("out.html", config={"displayModeBar": False, "staticPlot": True},
               post_script="document.body.style.margin='0';document.body.style.overflow='hidden';")
